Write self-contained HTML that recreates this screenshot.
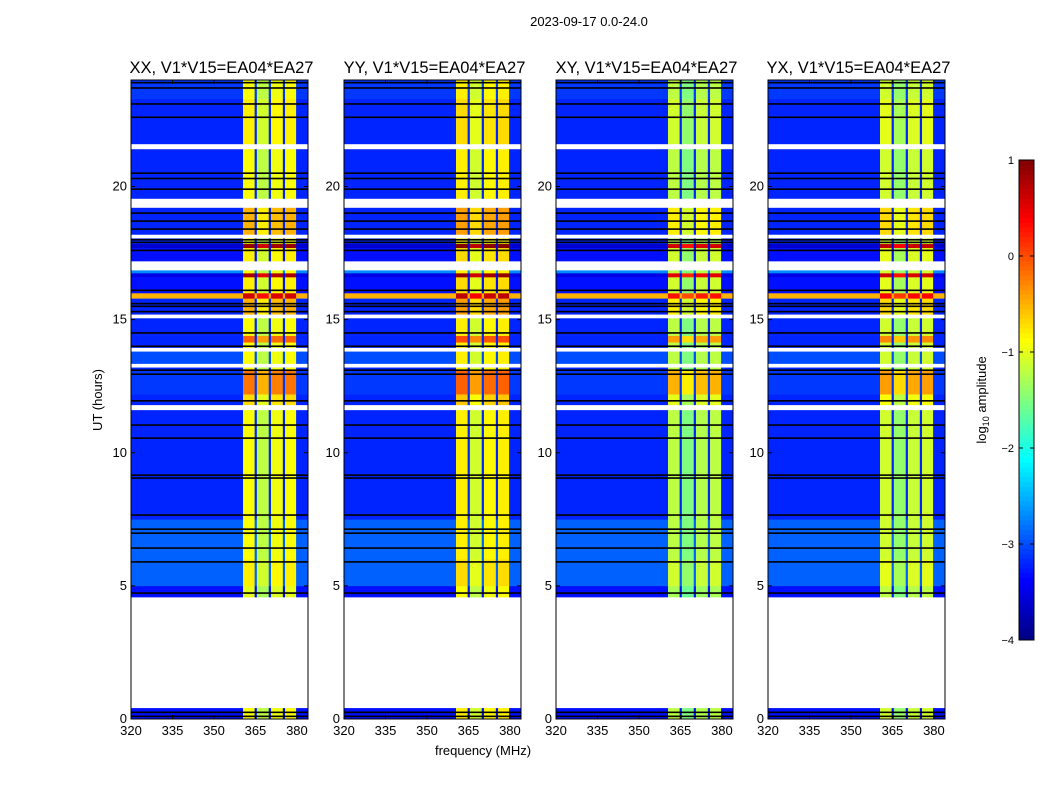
<!DOCTYPE html>
<html><head><meta charset="utf-8"><style>
body{margin:0;background:#fff;font-family:"Liberation Sans",sans-serif}
svg text{font-family:"Liberation Sans","DejaVu Sans",sans-serif}
</style></head><body>
<svg id="chart" width="1050" height="800" viewBox="0 0 1050 800" xmlns="http://www.w3.org/2000/svg">
<text x="589" y="26" font-size="13" text-anchor="middle">2023-09-17 0.0-24.0</text>
<text x="483" y="755" font-size="13" text-anchor="middle">frequency (MHz)</text>
<text x="0" y="0" font-size="13" text-anchor="middle" transform="translate(102,400) rotate(-90)">UT (hours)</text>
<g id="panels"></g>
<g id="cbar"></g>
<text x="0" y="0" font-size="13" text-anchor="middle" transform="translate(986,400) rotate(-90)">log<tspan font-size="9" dy="3">10</tspan><tspan dy="-3"> amplitude</tspan></text>
</svg>
<script>
const panelTitles=["XX, V1*V15=EA04*EA27","YY, V1*V15=EA04*EA27","XY, V1*V15=EA04*EA27","YX, V1*V15=EA04*EA27"];
const panelGain=[0,0.1,-0.3,-0.2];
const xTicks=[320,335,350,365,380];
const yTicks=[0,5,10,15,20];
const cbTicks=[1,0,-1,-2,-3,-4];
const specStart=[320,360.5,364.7,365.5,369.8,370.6,374.9,375.7,379.7];
const specEnd=[360.5,364.7,365.5,369.8,370.6,374.9,375.7,379.7,384];
const specInBand=[0,1,0,1,0,1,0,1,0];
const specOffset=[0,0.1,0,-0.2,0,0.05,0,0.1,0];
const rowStart=[0,0.41,4.58,5.0,6.0,7.5,11.6,11.8,12.2,13.1,13.2,13.35,13.8,13.95,14.15,14.4,15.05,15.2,15.8,16.0,16.6,16.75,16.85,17.2,17.7,17.85,18.05,18.2,19.2,19.55,21.4,21.6,23.3];
const rowEnd=[0.41,4.58,5.0,6.0,7.5,11.6,11.8,12.2,13.1,13.2,13.35,13.8,13.95,14.15,14.4,15.05,15.2,15.8,16.0,16.6,16.75,16.85,17.2,17.7,17.85,18.05,18.2,19.2,19.55,21.4,21.6,23.3,24];
const rowBg=[-3.3,null,-3.3,-2.9,-2.9,-3.2,null,-3.2,-3.1,-3.2,null,-3.0,null,-3.2,-3.2,-3.2,null,-3.2,-0.5,-3.3,-3.5,-2.7,null,-3.3,-3.6,-3.2,null,-3.2,null,-3.2,null,-3.2,-3.1];
const rowBand=[-1.0,null,-1.1,-0.9,-1.0,-1.0,null,-0.8,-0.3,-1.0,null,-1.0,null,-1.0,-0.2,-1.0,null,-0.6,0.5,-0.9,0.7,-1.0,null,-0.9,0.8,-1.0,null,-0.6,null,-1.0,null,-0.9,-1.0];
const blackLines=[0.1,0.25,4.73,5.9,6.42,6.98,7.13,7.66,9.05,9.16,10.55,11.04,11.95,12.95,13.1,14.0,14.5,15.3,15.5,15.6,16.1,17.6,17.9,18.0,18.4,18.7,19.0,19.9,20.3,20.5,22.6,23.1,23.7,23.9];

const NS="http://www.w3.org/2000/svg";
function mk(t,a,p){const e=document.createElementNS(NS,t);for(const k in a)e.setAttribute(k,a[k]);p.appendChild(e);return e;}
function jet(v){let t=(v+4)/5;t=Math.max(0,Math.min(1,t));
 const r=Math.max(0,Math.min(1,1.5-Math.abs(4*t-3))),g=Math.max(0,Math.min(1,1.5-Math.abs(4*t-2))),b=Math.max(0,Math.min(1,1.5-Math.abs(4*t-1)));
 return `rgb(${Math.round(r*255)},${Math.round(g*255)},${Math.round(b*255)})`;}
const lefts=[131,344,556,768],W=177,pTop=80,pBot=719;
const yS=h=>pBot-(h/24)*(pBot-pTop);
const panelsG=document.getElementById('panels');
lefts.forEach((L,pi)=>{
 const xS=f=>L+(f-320)/64*W;
 const g=mk('g',{},panelsG);
 
 
 rowStart.forEach((s,ri)=>{ if(rowBg[ri]===null) return;
  specStart.forEach((fs,si)=>{
   const v=specInBand[si]?rowBand[ri]+panelGain[pi]+specOffset[si]:rowBg[ri];
   const r=mk('rect',{x:xS(fs),y:yS(rowEnd[ri]),width:xS(specEnd[si])-xS(fs)+0.3,height:yS(s)-yS(rowEnd[ri])+0.3,fill:jet(v)},g);
   
   
  });
 });
 blackLines.forEach(h=>{
  const r=mk('rect',{x:L,y:yS(h)-0.8,width:W,height:1.6,fill:'#000'},g);
  
  
 });
 const fr=mk('rect',{x:L,y:pTop,width:W,height:pBot-pTop,fill:'none',stroke:'#000','stroke-width':1},g);
 
 
 const tt=mk('text',{x:L+W/2+2,y:73,'font-size':16.5,'text-anchor':'middle'},g);tt.textContent=panelTitles[pi];
 
 
 xTicks.forEach(f=>{const x=xS(f);
  mk('line',{x1:x,x2:x,y1:pBot,y2:pBot-4,stroke:'#000'},g);mk('line',{x1:x,x2:x,y1:pTop,y2:pTop+4,stroke:'#000'},g);
  const t=mk('text',{x:x,y:pBot+16,'font-size':13,'text-anchor':'middle'},g);t.textContent=f;
  
  });
 yTicks.forEach(h=>{const y=yS(h);
  mk('line',{x1:L,x2:L+4,y1:y,y2:y,stroke:'#000'},g);mk('line',{x1:L+W,x2:L+W-4,y1:y,y2:y,stroke:'#000'},g);
  const t=mk('text',{x:L-4,y:y+4,'font-size':13,'text-anchor':'end'},g);t.textContent=h;
  
  });
});
const cb=document.getElementById('cbar');


const cT=160,cB=640,cL=1019,cW=15,cv=v=>cB-(v+4)/5*(cB-cT);
for(let i=0;i<100;i++){const v=-4+i*0.05;mk('rect',{x:cL,y:cv(v+0.05),width:cW,height:(cB-cT)/100+0.5,fill:jet(v+0.025)},cb);}
mk('rect',{x:cL,y:cT,width:cW,height:cB-cT,fill:'none',stroke:'#000'},cb);
cbTicks.forEach(v=>{const y=cv(v);mk('line',{x1:cL,x2:cL+4,y1:y,y2:y,stroke:'#000'},cb);mk('line',{x1:cL+cW,x2:cL+cW-4,y1:y,y2:y,stroke:'#000'},cb);
 const t=mk('text',{x:cL-5,y:y+4,'font-size':11,'text-anchor':'end'},cb);t.textContent=v<0?'\u2212'+(-v):v;
 
 });
</script>
</body></html>
